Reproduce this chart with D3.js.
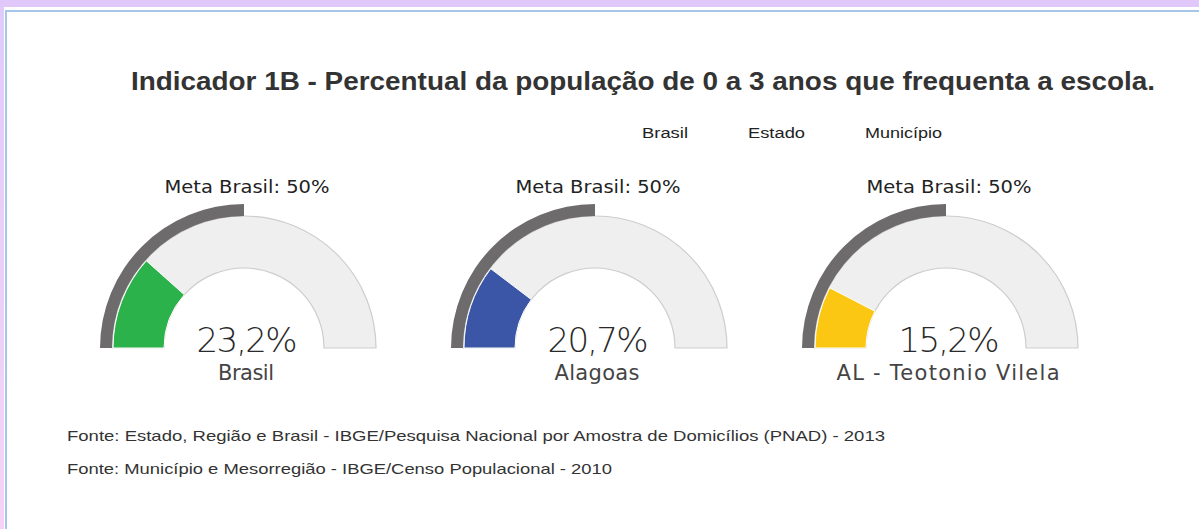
<!DOCTYPE html>
<html>

<head>
  <title>Indicador 1B</title>
  <script src="https://cdn.jsdelivr.net/npm/d3@7"></script>
  <style>
    body {
      margin: 0;
      overflow: hidden;
      background: #fff;
    }
  </style>
</head>

<body>
  <svg id="container" width="1199" height="529"></svg>

  <script>
    // data
    const places = ['Brasil', 'Alagoas', 'AL - Teotonio Vilela'];
    const values = [23.2, 20.7, 15.2];
    const valueLabels = ['23,2%', '20,7%', '15,2%'];
    const colors = ['#2cb24b', '#3b56a7', '#fcc713'];
    const metaValue = 50;
    const metaLabel = 'Meta Brasil: 50%';
    const legendLabels = ['Brasil', 'Estado', 'Município'];
    const title = 'Indicador 1B - Percentual da população de 0 a 3 anos que frequenta a escola.';
    const sources = [
      'Fonte: Estado, Região e Brasil - IBGE/Pesquisa Nacional por Amostra de Domicílios (PNAD) - 2013',
      'Fonte: Município e Mesorregião - IBGE/Censo Populacional - 2010'
    ];

    const svg = d3.select('#container');
    const width = +svg.attr('width');
    const height = +svg.attr('height');

    // frame round the picture
    const defs = svg.append('defs');
    const grad = defs.append('linearGradient').attr('id', 'side')
      .attr('x1', 0).attr('y1', 0).attr('x2', 0).attr('y2', 1);
    grad.append('stop').attr('offset', 0).attr('stop-color', '#e0cbfb');
    grad.append('stop').attr('offset', 1).attr('stop-color', '#f6d3f6');

    svg.append('rect').attr('x', 0).attr('y', 0).attr('width', 4).attr('height', height).attr('fill', 'url(#side)');
    svg.append('rect').attr('x', 0).attr('y', 0).attr('width', width).attr('height', 7).attr('fill', '#e0c8fb');
    svg.append('rect').attr('x', 5).attr('y', 10).attr('width', width - 5).attr('height', 2).attr('fill', '#a6c6e8');
    svg.append('rect').attr('x', 5).attr('y', 10).attr('width', 2).attr('height', height - 10).attr('fill', '#a6c6e8');

    // title
    svg.append('text')
      .attr('x', 131).attr('y', 90)
      .attr('textLength', 1024).attr('lengthAdjust', 'spacingAndGlyphs')
      .style('font-family', '"Liberation Sans", Arial, sans-serif')
      .style('font-size', '25px').style('font-weight', 'bold')
      .attr('fill', '#333')
      .text(title);

    // legend (labels only, as in the picture)
    const legendX = d3.scalePoint().domain(legendLabels).range([642, 865]);
    const legendW = [46, 57, 77];
    svg.append('g').selectAll('text')
      .data(legendLabels)
      .enter()
      .append('text')
      .attr('x', d => legendX(d) + (d === 'Estado' ? -5.5 : 0))
      .attr('y', 138)
      .attr('textLength', (d, i) => legendW[i]).attr('lengthAdjust', 'spacingAndGlyphs')
      .style('font-family', '"Liberation Sans", Arial, sans-serif')
      .style('font-size', '14px')
      .attr('fill', '#222')
      .text(d => d);

    // gauges
    const centerX = d3.scalePoint().domain(places).range([244, 946]);
    const centerY = 348;
    const angle = d3.scaleLinear().domain([0, 100]).range([-Math.PI / 2, Math.PI / 2]);

    const innerR = 80;
    const outerR = 132;

    const bgArc = d3.arc().innerRadius(innerR).outerRadius(outerR)
      .startAngle(angle(0)).endAngle(angle(100));
    const metaArc = d3.arc().innerRadius(outerR).outerRadius(outerR + 12)
      .startAngle(angle(0)).endAngle(angle(metaValue));
    const valueArc = d3.arc().innerRadius(innerR).outerRadius(outerR - 1)
      .startAngle(angle(0)).endAngle(d => angle(d));

    const gauges = svg.append('g').attr('class', 'gauges')
      .selectAll('g')
      .data(places)
      .enter()
      .append('g')
      .attr('transform', d => `translate(${centerX(d)},${centerY})`);

    gauges.append('path')
      .attr('d', bgArc)
      .attr('fill', '#efefef')
      .attr('stroke', '#cdcdcd')
      .attr('stroke-width', 1.2);

    gauges.append('path')
      .attr('d', metaArc)
      .attr('fill', '#6e6b6c');

    gauges.append('path')
      .attr('d', (d, i) => valueArc(values[i]))
      .attr('fill', (d, i) => colors[i])
      .attr('stroke', '#fff')
      .attr('stroke-width', 1);

    gauges.append('text')
      .attr('x', 3).attr('y', -155)
      .attr('text-anchor', 'middle')
      .attr('textLength', 165).attr('lengthAdjust', 'spacingAndGlyphs')
      .style('font-family', '"DejaVu Sans", Verdana, sans-serif')
      .style('font-size', '18px')
      .attr('fill', '#222')
      .text(metaLabel);

    gauges.append('text')
      .attr('x', 3).attr('y', 4)
      .attr('text-anchor', 'middle')
      .attr('textLength', 101).attr('lengthAdjust', 'spacing')
      .style('font-family', '"DejaVu Sans", Verdana, sans-serif')
      .style('font-size', '34px').style('font-weight', 200)
      .attr('fill', '#2a2a2a')
      .text((d, i) => valueLabels[i]);

    const labelW = [56, 85, 223];
    gauges.append('text')
      .attr('x', 2).attr('y', 32)
      .attr('text-anchor', 'middle')
      .attr('textLength', (d, i) => labelW[i]).attr('lengthAdjust', 'spacing')
      .style('font-family', '"DejaVu Sans", Verdana, sans-serif')
      .style('font-size', '21px')
      .attr('fill', '#444')
      .text(d => d);

    // sources
    const sourceW = [818, 545];
    svg.append('g').selectAll('text')
      .data(sources)
      .enter()
      .append('text')
      .attr('x', 67)
      .attr('y', (d, i) => 441 + i * 33)
      .attr('textLength', (d, i) => sourceW[i]).attr('lengthAdjust', 'spacingAndGlyphs')
      .style('font-family', '"Liberation Sans", Arial, sans-serif')
      .style('font-size', '15px')
      .attr('fill', '#333')
      .text(d => d);
  </script>
</body>

</html>
